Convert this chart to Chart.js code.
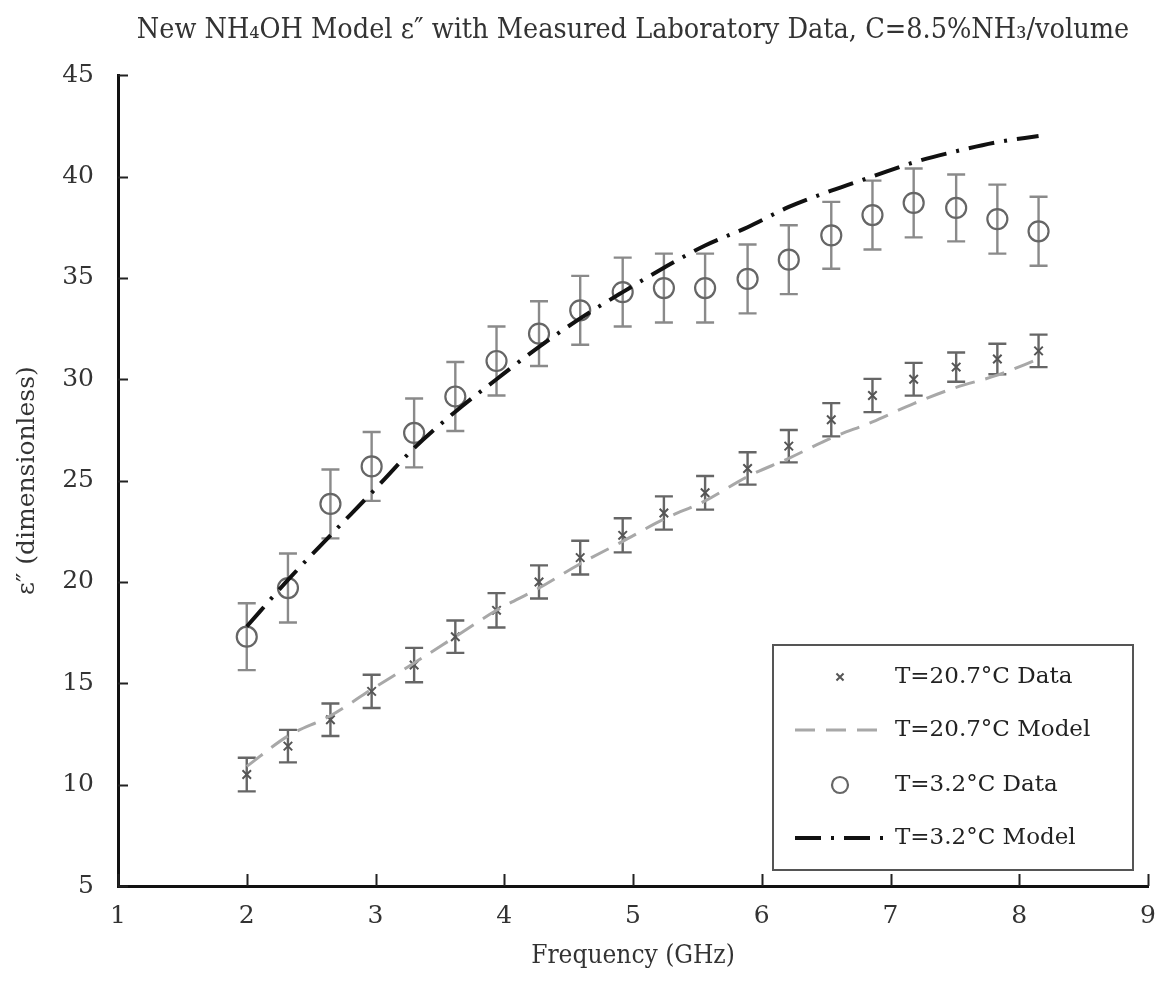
<!DOCTYPE html>
<html>
<head>
<meta charset="utf-8">
<script src="https://cdn.jsdelivr.net/npm/chart.js@4.4.0/dist/chart.umd.min.js"></script>
<style>
  html, body { margin: 0; padding: 0; background: #fff; }
  #wrap { width: 1164px; height: 984px; }
</style>
</head>
<body>
<div id="wrap"><canvas id="permChart"></canvas></div>
<script>
// measurement frequencies (GHz)
const freqGHz = [2.00, 2.32, 2.65, 2.97, 3.30, 3.62, 3.94, 4.27, 4.59, 4.92,
                 5.24, 5.56, 5.89, 6.21, 6.54, 6.86, 7.18, 7.51, 7.83, 8.15];

// T = 20.7 C
const warmData  = [10.5, 11.9, 13.2, 14.6, 15.9, 17.3, 18.6, 20.0, 21.2, 22.3,
                   23.4, 24.4, 25.6, 26.7, 28.0, 29.2, 30.0, 30.6, 31.0, 31.4];
const warmErr   = [0.83, 0.80, 0.80, 0.82, 0.85, 0.80, 0.85, 0.82, 0.83, 0.84,
                   0.82, 0.83, 0.80, 0.80, 0.82, 0.82, 0.81, 0.72, 0.75, 0.80];
const warmModel = [10.9, 12.4, 13.4, 14.7, 16.0, 17.3, 18.6, 19.7, 20.9, 22.0,
                   23.1, 24.0, 25.2, 26.1, 27.1, 27.9, 28.8, 29.6, 30.2, 31.0];

// T = 3.2 C
const coldData  = [17.3, 19.7, 23.85, 25.7, 27.35, 29.15, 30.9, 32.25, 33.4, 34.3,
                   34.5, 34.5, 34.95, 35.9, 37.1, 38.1, 38.7, 38.45, 37.9, 37.3];
const coldErr   = [1.65, 1.70, 1.70, 1.70, 1.70, 1.70, 1.70, 1.60, 1.70, 1.70,
                   1.70, 1.70, 1.70, 1.70, 1.65, 1.70, 1.70, 1.65, 1.70, 1.70];
const coldModel = [17.8, 20.1, 22.3, 24.4, 26.6, 28.4, 30.0, 31.6, 33.0, 34.3,
                   35.5, 36.6, 37.5, 38.5, 39.3, 40.0, 40.7, 41.25, 41.7, 42.0];

const seriesLabels = ['T=20.7\u00B0C Data', 'T=20.7\u00B0C Model', 'T=3.2\u00B0C Data', 'T=3.2\u00B0C Model'];
const xTicks = [1, 2, 3, 4, 5, 6, 7, 8, 9];
const yTicks = [5, 10, 15, 20, 25, 30, 35, 40, 45];

const serifWide = '"DejaVu Serif", "Liberation Serif", serif';
const serifNarrow = '"DejaVu Serif Condensed", "Liberation Serif", serif';

function toPoints(ys) {
    return freqGHz.map((f, i) => ({ x: f, y: ys[i] }));
}

// vertical error bars with caps, drawn under the markers
const errorBarPlugin = {
    id: 'errorBars',
    beforeDatasetsDraw(chart) {
        const ctx = chart.ctx;
        const xs = chart.scales.x, ys = chart.scales.y;
        chart.data.datasets.forEach(ds => {
            if (!ds.errors) return;
            ctx.save();
            ctx.strokeStyle = ds.errorColor;
            ctx.lineWidth = 2.4;
            ds.data.forEach((p, i) => {
                const px = xs.getPixelForValue(p.x);
                const top = ys.getPixelForValue(p.y + ds.errors[i]);
                const bot = ys.getPixelForValue(p.y - ds.errors[i]);
                ctx.beginPath();
                ctx.moveTo(px, top); ctx.lineTo(px, bot);
                ctx.moveTo(px - 9, top); ctx.lineTo(px + 9, top);
                ctx.moveTo(px - 9, bot); ctx.lineTo(px + 9, bot);
                ctx.stroke();
            });
            ctx.restore();
        });
    }
};

// tick marks pointing into the plot area
const innerTicksPlugin = {
    id: 'innerTicks',
    afterDraw(chart) {
        const ctx = chart.ctx;
        const xs = chart.scales.x, ys = chart.scales.y;
        const area = chart.chartArea;
        ctx.save();
        ctx.strokeStyle = '#222';
        ctx.lineWidth = 2;
        ctx.beginPath();
        xTicks.forEach(v => {
            const px = Math.round(xs.getPixelForValue(v)) + 0.5;
            ctx.moveTo(px, area.bottom);
            ctx.lineTo(px, area.bottom - 12);
        });
        yTicks.forEach(v => {
            const py = Math.round(ys.getPixelForValue(v)) + 0.5;
            ctx.moveTo(area.left, py);
            ctx.lineTo(area.left + 10, py);
        });
        ctx.stroke();
        ctx.restore();
    }
};

// boxed legend in the lower right corner of the plot
const boxLegendPlugin = {
    id: 'boxLegend',
    afterDraw(chart) {
        const ctx = chart.ctx;
        const area = chart.chartArea;
        const right = area.right - 15, bottom = area.bottom - 16;
        const left = right - 360, top = bottom - 225;
        ctx.save();
        ctx.fillStyle = '#fff';
        ctx.fillRect(left, top, right - left, bottom - top);
        ctx.strokeStyle = '#555';
        ctx.lineWidth = 2;
        ctx.strokeRect(left, top, right - left, bottom - top);

        const rowY = [top + 32, top + 85, top + 140, top + 193];
        const symX = left + 67;
        ctx.font = '23px ' + serifWide;
        ctx.textBaseline = 'middle';
        chart.data.datasets.forEach((ds, i) => {
            const y = rowY[i];
            if (ds.showLine) {
                ctx.beginPath();
                ctx.setLineDash(ds.borderDash || []);
                ctx.strokeStyle = ds.borderColor;
                ctx.lineWidth = ds.borderWidth;
                ctx.moveTo(left + 22, y);
                ctx.lineTo(left + 114, y);
                ctx.stroke();
                ctx.setLineDash([]);
            } else {
                ctx.fillStyle = 'rgba(0,0,0,0)';
                ctx.strokeStyle = ds.pointBorderColor;
                ctx.lineWidth = ds.pointBorderWidth;
                Chart.helpers.drawPoint(ctx, {
                    pointStyle: ds.pointStyle,
                    radius: ds.pointStyle === 'circle' ? 8 : 5,
                    borderWidth: ds.pointBorderWidth
                }, symX, y);
            }
            ctx.fillStyle = '#222';
            ctx.fillText(ds.label, left + 122, y);
        });
        ctx.restore();
    }
};

new Chart(document.getElementById('permChart'), {
    type: 'scatter',
    data: {
        datasets: [
            {
                label: seriesLabels[0],
                data: toPoints(warmData),
                errors: warmErr,
                errorColor: '#666',
                showLine: false,
                pointStyle: 'crossRot',
                pointRadius: 6,
                pointBorderColor: '#555',
                pointBorderWidth: 2,
                order: 3
            },
            {
                label: seriesLabels[1],
                data: toPoints(warmModel),
                showLine: true,
                borderColor: '#a8a8a8',
                borderWidth: 3,
                borderDash: [20, 11],
                pointRadius: 0,
                cubicInterpolationMode: 'monotone',
                order: 1
            },
            {
                label: seriesLabels[2],
                data: toPoints(coldData),
                errors: coldErr,
                errorColor: '#8a8a8a',
                showLine: false,
                pointStyle: 'circle',
                pointRadius: 10,
                pointBackgroundColor: 'rgba(0,0,0,0)',
                pointBorderColor: '#666',
                pointBorderWidth: 2.2,
                order: 4
            },
            {
                label: seriesLabels[3],
                data: toPoints(coldModel),
                showLine: true,
                borderColor: '#111',
                borderWidth: 4,
                borderDash: [26, 10, 3, 10],
                pointRadius: 0,
                cubicInterpolationMode: 'monotone',
                order: 2
            }
        ]
    },
    options: {
        responsive: true,
        maintainAspectRatio: false,
        animation: false,
        layout: { padding: { top: 0, right: 16, bottom: 0, left: 0 } },
        plugins: {
            legend: { display: false },
            tooltip: { enabled: false },
            title: {
                display: true,
                fullSize: false,
                text: 'New NH\u2084OH Model \u03B5\u2033 with Measured Laboratory Data, C=8.5%NH\u2083/volume',
                color: '#333',
                font: { family: serifNarrow, size: 28.5, weight: 'normal' },
                padding: { top: 13, bottom: 28 }
            }
        },
        scales: {
            x: {
                type: 'linear',
                min: 1,
                max: 9,
                afterBuildTicks: scale => { scale.ticks = xTicks.map(v => ({ value: v })); },
                afterFit: scale => { scale.height = 98; },
                grid: { display: false },
                border: { display: true, color: '#111', width: 3 },
                ticks: {
                    color: '#333',
                    padding: 7,
                    font: { family: serifWide, size: 25 }
                },
                title: {
                    display: true,
                    text: 'Frequency (GHz)',
                    color: '#333',
                    font: { family: serifNarrow, size: 26 },
                    padding: { top: 4, bottom: 12 }
                }
            },
            y: {
                type: 'linear',
                min: 5,
                max: 45,
                afterBuildTicks: scale => { scale.ticks = yTicks.map(v => ({ value: v })); },
                afterFit: scale => { scale.width = 118; },
                grid: { display: false },
                border: { display: true, color: '#111', width: 3 },
                ticks: {
                    color: '#333',
                    padding: 16,
                    font: { family: serifWide, size: 25 }
                },
                title: {
                    display: true,
                    text: '\u03B5\u2033 (dimensionless)',
                    color: '#333',
                    font: { family: serifWide, size: 25 },
                    padding: { top: 12, bottom: 0 }
                }
            }
        }
    },
    plugins: [errorBarPlugin, innerTicksPlugin, boxLegendPlugin]
});
</script>
</body>
</html>
